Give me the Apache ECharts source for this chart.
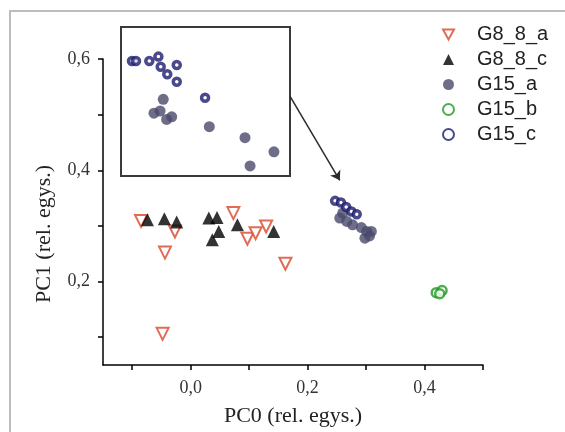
<!DOCTYPE html>
<html>
<head>
<meta charset="utf-8">
<script src="https://cdn.jsdelivr.net/npm/echarts@6/dist/echarts.min.js"></script>
<style>
  html, body { margin: 0; padding: 0; background: #fff; }
  #chart { width: 565px; height: 432px; }
</style>
</head>
<body>
<div id="chart"></div>
<script>
// main plot points [PC0, PC1]
const g88a = [[-0.085, 0.309], [-0.027, 0.290], [-0.044, 0.252], [0.073, 0.323], [0.097, 0.277],
  [0.111, 0.287], [0.129, 0.299], [0.162, 0.232], [-0.048, 0.106]];
const g88c = [[-0.074, 0.311], [-0.045, 0.313], [-0.024, 0.307], [0.031, 0.314], [0.045, 0.315],
  [0.080, 0.302], [0.048, 0.290], [0.037, 0.275], [0.142, 0.290]];
const g15a = [[0.255, 0.314], [0.260, 0.323], [0.267, 0.308], [0.277, 0.302], [0.292, 0.297],
  [0.301, 0.290], [0.309, 0.290], [0.298, 0.278], [0.306, 0.282]];
const g15b = [[0.420, 0.180], [0.430, 0.184], [0.426, 0.178]];
const g15c = [[0.247, 0.345], [0.257, 0.342], [0.266, 0.334], [0.275, 0.326], [0.284, 0.321]];

// magnified cluster in the inset
const insetA = [[0.2600, 0.3112], [0.2556, 0.3037], [0.2585, 0.3049], [0.2616, 0.3004], [0.2640, 0.3018],
  [0.2818, 0.2965], [0.2987, 0.2906], [0.3124, 0.2830], [0.3011, 0.2754]];
const insetC = [[0.2452, 0.3317], [0.2471, 0.3317], [0.2534, 0.3317], [0.2577, 0.3341], [0.2588, 0.3287],
  [0.2664, 0.3296], [0.2619, 0.3246], [0.2664, 0.3206], [0.2798, 0.3120]];

const xTicks = [-0.1, 0, 0.1, 0.2, 0.3, 0.4, 0.5];
const xLabels = [0, 0.2, 0.4];
const yTicks = [0.1, 0.2, 0.3, 0.4, 0.5, 0.6];
const yLabels = [0.2, 0.4, 0.6];
const arrowFrom = [0.170, 0.533];
const arrowTo = [0.255, 0.382];

const serif = '"Liberation Serif", "DejaVu Serif", serif';
const fmt = v => v.toFixed(1).replace('.', ',');

const styles = {
  G8_8_a: { symbol: 'triangle', symbolRotate: 180, symbolSize: 12,
    itemStyle: { color: '#fff', borderColor: '#d9472c', borderWidth: 2 } },
  G8_8_c: { symbol: 'triangle', symbolSize: 13, itemStyle: { color: '#000' } },
  G15_a: { symbol: 'circle', symbolSize: 11, itemStyle: { color: '#4a4a6c' } },
  G15_b: { symbol: 'circle', symbolSize: 9,
    itemStyle: { color: '#fff', borderColor: '#1f9a22', borderWidth: 2.5 } },
  G15_c: { symbol: 'circle', symbolSize: 7,
    itemStyle: { color: '#fff', borderColor: '#1b1b6e', borderWidth: 3.5 } }
};

function scatter(name, data, idx) {
  return Object.assign({
    type: 'scatter', name: name, data: data,
    xAxisIndex: idx, yAxisIndex: idx, emphasis: { disabled: true }
  }, styles[name]);
}

const axisLine = { onZero: false, lineStyle: { color: '#000', width: 1.5 } };

const chart = echarts.init(document.getElementById('chart'));
const series = [
  scatter('G8_8_a', g88a, 0),
  scatter('G8_8_c', g88c, 0),
  scatter('G15_a', g15a, 0),
  scatter('G15_b', g15b, 0),
  scatter('G15_c', g15c, 0),
  scatter('G15_a', insetA, 1),
  scatter('G15_c', insetC, 1)
];
series[4].markLine = {
  silent: true,
  symbol: ['none', 'arrow'],
  symbolSize: 9,
  label: { show: false },
  lineStyle: { color: '#2b2b2b', width: 1.5, type: 'solid' },
  data: [[{ coord: arrowFrom }, { coord: arrowTo }]]
};

chart.setOption({
  animation: false,
  backgroundColor: '#fff',
  graphic: [{
    type: 'rect', shape: { x: 10, y: 11, width: 700, height: 600 },
    style: { fill: 'none', stroke: '#bdbdbd', lineWidth: 2 }, z: -10
  }],
  legend: {
    orient: 'vertical', left: 437, top: 19,
    itemWidth: 11, itemHeight: 11, itemGap: 4,
    data: [
      { name: 'G8_8_a', icon: 'path://M0,0 L10,0 L5,9 Z' },
      'G8_8_c', 'G15_a', 'G15_b', 'G15_c'
    ],
    textStyle: { fontFamily: '"Liberation Sans", Arial, sans-serif', fontSize: 20, color: '#222',
      padding: [0, 0, 0, 18], lineHeight: 21 }
  },
  grid: [
    { left: 103, top: 59, right: 82, bottom: 65 },
    { left: 121, top: 27, width: 169, height: 149, show: true,
      backgroundColor: '#fff', borderColor: '#3a3a3a', borderWidth: 2 }
  ],
  xAxis: [{
    type: 'value', gridIndex: 0, min: -0.15, max: 0.5,
    name: 'PC0 (rel. egys.)', nameLocation: 'middle', nameGap: 40,
    nameTextStyle: { fontFamily: serif, fontSize: 22, color: '#222' },
    axisLine: axisLine,
    axisTick: { show: true, length: 5, customValues: xTicks, lineStyle: { color: '#000', width: 1.5 } },
    axisLabel: { customValues: xLabels, formatter: fmt, margin: 14,
      fontFamily: serif, fontSize: 18, color: '#333' },
    splitLine: { show: false }
  }, {
    type: 'value', gridIndex: 1, min: 0.24, max: 0.32, show: false
  }],
  yAxis: [{
    type: 'value', gridIndex: 0, min: 0.05, max: 0.6,
    name: 'PC1 (rel. egys.)', nameLocation: 'middle', nameGap: 48, nameRotate: 90,
    nameTextStyle: { fontFamily: serif, fontSize: 22, color: '#222', padding: [0, 44, 0, 0] },
    axisLine: axisLine,
    axisTick: { show: true, length: 5, customValues: yTicks, lineStyle: { color: '#000', width: 1.5 } },
    axisLabel: { customValues: yLabels, formatter: fmt, margin: 13,
      fontFamily: serif, fontSize: 18, color: '#333' },
    splitLine: { show: false }
  }, {
    type: 'value', gridIndex: 1, min: 0.27, max: 0.35, show: false
  }],
  series: series
});
</script>
</body>
</html>
